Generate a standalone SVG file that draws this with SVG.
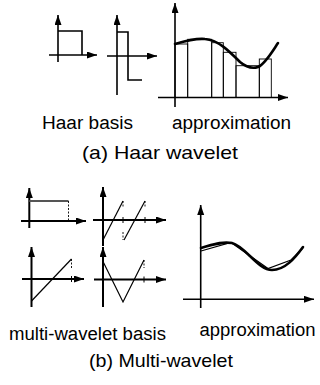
<svg xmlns="http://www.w3.org/2000/svg" width="320" height="385" viewBox="0 0 320 385">
<style>
.ax{stroke:#000;stroke-width:1.6;fill:none;marker-end:url(#ah)}
.axb{stroke:#000;stroke-width:2;fill:none;marker-end:url(#ah)}
.fn{stroke:#000;stroke-width:1.6;fill:none}
.bar{stroke:#000;stroke-width:0.9;fill:none}
.crv{stroke:#000;stroke-width:2.6;fill:none;stroke-linecap:round}
.thin{stroke:#000;stroke-width:1.2;fill:none}
.dash{stroke:#000;stroke-width:0.9;fill:none;stroke-dasharray:2,1.5}
.tk{stroke:#000;stroke-width:1;fill:none}
text{font-family:"Liberation Sans",Arial,Helvetica,sans-serif;fill:#000}
.lb{font-size:18px}
.cap{font-size:19px}
</style>
<defs>
<marker id="ah" markerUnits="userSpaceOnUse" markerWidth="11" markerHeight="8" refX="10" refY="3.5" orient="auto">
<path d="M0,0 L10,3.5 L0,7 z" fill="#000"/>
</marker>
</defs>
<g id="haar-scaling">
<line class="ax" x1="58" y1="62" x2="58" y2="15"/>
<line class="ax" x1="49" y1="55" x2="97" y2="55"/>
<polyline class="fn" points="58,31 82,31 82,55"/>
</g>
<g id="haar-wavelet">
<line class="ax" x1="117" y1="95" x2="117" y2="15"/>
<line class="ax" x1="107" y1="56" x2="157" y2="56"/>
<polyline class="fn" points="117,32 128,32 128,80 142,80"/>
</g>
<g id="haar-approximation">
<rect class="bar" x="175" y="44" width="12.7" height="53.5"/>
<rect class="bar" x="187.7" y="39.3" width="24" height="58.2"/>
<rect class="bar" x="211.7" y="42.7" width="11.6" height="54.8"/>
<rect class="bar" x="223.3" y="52.3" width="12.7" height="45.2"/>
<rect class="bar" x="236" y="65.7" width="23.3" height="31.8"/>
<rect class="bar" x="259.3" y="59" width="12" height="38.5"/>
<line class="ax" x1="175" y1="107" x2="175" y2="3"/>
<line class="ax" x1="158" y1="97.5" x2="288" y2="97.5"/>
<path class="crv" d="M175,44 C185,41 195,38 205,39 C218,40 228,50 240,62 C246,67 252,69 258,67 C265,64 272,52 278,43"/>
</g>
<g id="multi-scaling-1">
<line class="axb" x1="29.3" y1="228" x2="29.3" y2="188"/>
<line class="axb" x1="21" y1="221" x2="86" y2="221"/>
<line x1="29.3" y1="201" x2="68.5" y2="201" stroke="#555" stroke-width="2"/>
<line class="dash" x1="68.5" y1="201" x2="68.5" y2="221"/>
</g>
<g id="multi-wavelet-1">
<line class="axb" x1="103" y1="246" x2="103" y2="187"/>
<line class="axb" x1="93" y1="220" x2="166" y2="220"/>
<line class="thin" x1="103" y1="240" x2="123" y2="201"/>
<line class="thin" x1="124" y1="240" x2="145" y2="201"/>
<line class="dash" x1="123" y1="201" x2="123" y2="208"/>
<line class="dash" x1="123" y1="232" x2="123" y2="240"/>
<line class="dash" x1="145" y1="201" x2="145" y2="208"/>
<line class="tk" x1="123" y1="217" x2="123" y2="223"/>
<line class="tk" x1="145" y1="217" x2="145" y2="223"/>
</g>
<g id="multi-scaling-2">
<line class="axb" x1="31.5" y1="307" x2="31.5" y2="247"/>
<line class="axb" x1="22" y1="279" x2="84" y2="279"/>
<line class="thin" x1="31.5" y1="301" x2="71.5" y2="259"/>
<line class="dash" x1="71.5" y1="259" x2="71.5" y2="268"/>
<line class="tk" x1="71.5" y1="276" x2="71.5" y2="282"/>
</g>
<g id="multi-wavelet-2">
<line class="axb" x1="103" y1="307" x2="103" y2="247"/>
<line class="axb" x1="94" y1="279.5" x2="166" y2="279.5"/>
<polyline class="thin" points="103,261.5 123,302 144,260"/>
<line class="dash" x1="144" y1="260" x2="144" y2="268"/>
<line class="tk" x1="144" y1="276.5" x2="144" y2="282.5"/>
</g>
<g id="multi-approximation">
<line class="ax" x1="200.7" y1="308" x2="200.7" y2="205"/>
<line class="ax" x1="183" y1="299.3" x2="314" y2="299.3"/>
<polyline class="thin" points="201,251 231,242.5 268,268.5 291,260 303,248"/>
<path class="crv" d="M201,248 C212,245 222,241 232,243 C245,246 258,270 272,270 C285,270 295,258 303,247"/>
</g>
<g id="labels">
<text class="lb" x="42" y="129" textLength="91" lengthAdjust="spacingAndGlyphs">Haar basis</text>
<text class="lb" x="172" y="129" textLength="119" lengthAdjust="spacingAndGlyphs">approximation</text>
<text class="cap" x="82" y="159" textLength="156" lengthAdjust="spacingAndGlyphs">(a) Haar wavelet</text>
<text class="lb" x="9" y="340" textLength="157" lengthAdjust="spacingAndGlyphs">multi-wavelet basis</text>
<text class="lb" x="199.5" y="336" textLength="116" lengthAdjust="spacingAndGlyphs">approximation</text>
<text class="cap" x="89" y="367" textLength="144" lengthAdjust="spacingAndGlyphs">(b) Multi-wavelet</text>
</g>
</svg>
